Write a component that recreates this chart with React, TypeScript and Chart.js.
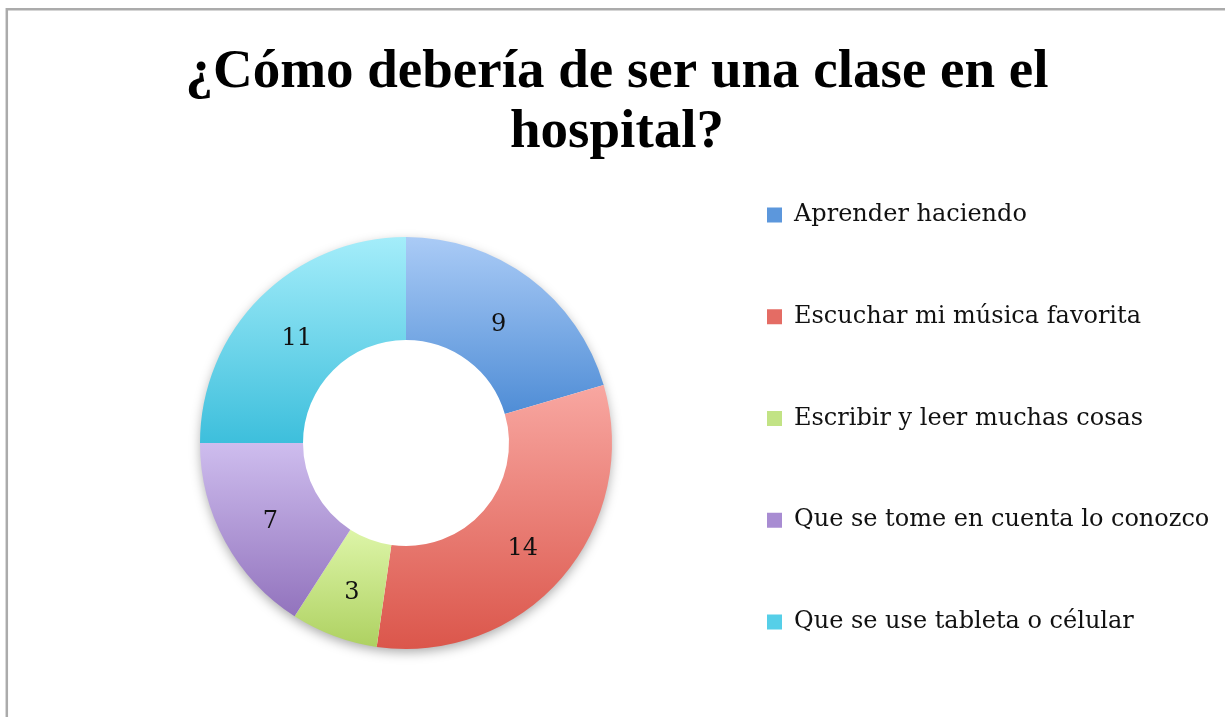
import { useEffect, useRef } from 'react';
import { Chart, registerables } from 'chart.js';

Chart.register(...registerables);

const TITLE_LINES = ['¿Cómo debería de ser una clase en el', 'hospital?'];
const CATEGORIES = [
  'Aprender haciendo',
  'Escuchar mi música favorita',
  'Escribir y leer muchas cosas',
  'Que se tome en cuenta lo conozco',
  'Que se use tableta o célular',
];
const VALUES = [9, 14, 3, 7, 11];
const TOP_COLORS = ['#aacbf6', '#f8a7a1', '#ddf5a8', '#cebdee', '#a4edfa'];
const BOTTOM_COLORS = ['#4f8dd6', '#db564b', '#aed161', '#9273bd', '#3dbfdc'];
const LEGEND_COLORS = ['#5c97dc', '#e46c64', '#c2e385', '#a88cd2', '#56cfe8'];

const W = 1225;
const H = 717;
const LEGEND_FONT_SIZE = 24;
const LEGEND_BOX = 15;
const LEGEND_LEFT = 767;
const PAD_LEFT = 45;
const TITLE_CENTER_X = 617;

function sliceGradient(ctx: any) {
  const i = ctx.dataIndex;
  const chart = ctx.chart;
  const area = chart.chartArea;
  if (i === undefined || !area) return LEGEND_COLORS[i ?? 0];
  const meta = chart.getDatasetMeta(ctx.datasetIndex ?? 0);
  const ctrl: any = meta.controller;
  const R = ctrl?.outerRadius;
  const r = ctrl?.innerRadius ?? 0;
  if (!R) return LEGEND_COLORS[i];
  const cy = (area.top + area.bottom) / 2;
  const values = chart.data.datasets[0].data as number[];
  const total = values.reduce((a: number, b: number) => a + b, 0);
  let a0 = -Math.PI / 2;
  for (let k = 0; k < i; k++) a0 += (values[k] / total) * Math.PI * 2;
  const a1 = a0 + (values[i] / total) * Math.PI * 2;
  let minY = Infinity;
  let maxY = -Infinity;
  for (let s = 0; s <= 64; s++) {
    const a = a0 + ((a1 - a0) * s) / 64;
    for (const rad of [r, R]) {
      const y = cy + rad * Math.sin(a);
      minY = Math.min(minY, y);
      maxY = Math.max(maxY, y);
    }
  }
  const g = chart.ctx.createLinearGradient(0, minY, 0, maxY);
  g.addColorStop(0, TOP_COLORS[i]);
  g.addColorStop(1, BOTTOM_COLORS[i]);
  return g;
}

const framePlugin = {
  id: 'frame',
  beforeDraw(chart: any) {
    const c = chart.ctx;
    c.save();
    c.fillStyle = '#ffffff';
    c.fillRect(0, 0, chart.width, chart.height);
    c.strokeStyle = '#ababab';
    c.lineWidth = 2.5;
    c.beginPath();
    c.moveTo(6.8, chart.height);
    c.lineTo(6.8, 9.2);
    c.lineTo(chart.width, 9.2);
    c.stroke();
    c.restore();
  },
};

const titleShiftPlugin = {
  id: 'titleShift',
  afterLayout(chart: any) {
    const t = chart.titleBlock;
    if (!t) return;
    const d = TITLE_CENTER_X - (t.left + t.right) / 2;
    t.left += d;
    t.right += d;
  },
};

const shadowPlugin = {
  id: 'ringShadow',
  beforeDatasetsDraw(chart: any) {
    const meta = chart.getDatasetMeta(0);
    const arc: any = meta.data[0];
    if (!arc) return;
    const c = chart.ctx;
    c.save();
    c.shadowColor = 'rgba(0,0,0,0.35)';
    c.shadowBlur = 12;
    c.shadowOffsetY = 4;
    c.fillStyle = '#ffffff';
    c.beginPath();
    c.arc(arc.x, arc.y, arc.outerRadius - 1, 0, Math.PI * 2);
    c.fill();
    c.restore();
  },
};

const valueLabelPlugin = {
  id: 'valueLabels',
  afterDatasetsDraw(chart: any) {
    const meta = chart.getDatasetMeta(0);
    const data = chart.data.datasets[0].data as number[];
    const c = chart.ctx;
    c.save();
    c.font = '24px "DejaVu Serif"';
    c.fillStyle = '#111111';
    c.textAlign = 'center';
    c.textBaseline = 'middle';
    meta.data.forEach((arc: any, i: number) => {
      const p = arc.tooltipPosition(false);
      c.fillText(String(data[i]), p.x, p.y + 5);
    });
    c.restore();
  },
};

export default function App() {
  const canvasRef = useRef<HTMLCanvasElement | null>(null);

  useEffect(() => {
    document.body.style.margin = '0';
    const canvas = canvasRef.current;
    if (!canvas) return;

    // Size the right padding so that the legend starts at LEGEND_LEFT.
    const m = document.createElement('canvas').getContext('2d') as CanvasRenderingContext2D;
    m.font = `normal ${LEGEND_FONT_SIZE}px DejaVu Serif`;
    const maxText = Math.max(...CATEGORIES.map((t) => m.measureText(t).width));
    const legendWidth = LEGEND_BOX + LEGEND_FONT_SIZE / 2 + maxText + 10;
    const padRight = Math.max(0, W - LEGEND_LEFT - legendWidth);

    const chart = new Chart(canvas, {
      type: 'doughnut',
      data: {
        labels: CATEGORIES,
        datasets: [
          {
            data: VALUES,
            backgroundColor: sliceGradient as any,
            borderWidth: 0,
            hoverOffset: 0,
            radius: 206,
          } as any,
        ],
      },
      options: {
        responsive: false,
        animation: false,
        events: [],
        cutout: '50%',
        layout: { padding: { left: PAD_LEFT, right: padRight, top: 0, bottom: 0 } },
        plugins: {
          title: {
            display: true,
            text: TITLE_LINES,
            color: '#000000',
            font: { family: 'Liberation Serif', weight: 'bold', size: 55, lineHeight: '60px' } as any,
            padding: { top: 43, bottom: 6 },
          },
          legend: {
            position: 'right',
            align: 'start',
            fullSize: true,
            title: {
              display: true,
              text: '',
              padding: 0,
              font: { size: 10, lineHeight: '203px' } as any,
            },
            labels: {
              boxWidth: LEGEND_BOX,
              boxHeight: LEGEND_BOX,
              padding: 0,
              color: '#111111',
              font: { family: 'DejaVu Serif', size: LEGEND_FONT_SIZE, lineHeight: '101.75px' } as any,
              generateLabels: () =>
                CATEGORIES.map((t, i) => ({
                  text: [t] as any,
                  fillStyle: LEGEND_COLORS[i],
                  strokeStyle: LEGEND_COLORS[i],
                  fontColor: '#111111',
                  lineWidth: 0,
                  hidden: false,
                  index: i,
                  datasetIndex: 0,
                })),
            },
          } as any,
          tooltip: { enabled: false },
        },
      } as any,
      plugins: [framePlugin, titleShiftPlugin, shadowPlugin, valueLabelPlugin],
    });
    return () => chart.destroy();
  }, []);

  return (
    <div style={{ width: W, height: H, background: '#ffffff' }}>
      <canvas ref={canvasRef} width={W} height={H} style={{ display: 'block' }} />
    </div>
  );
}
